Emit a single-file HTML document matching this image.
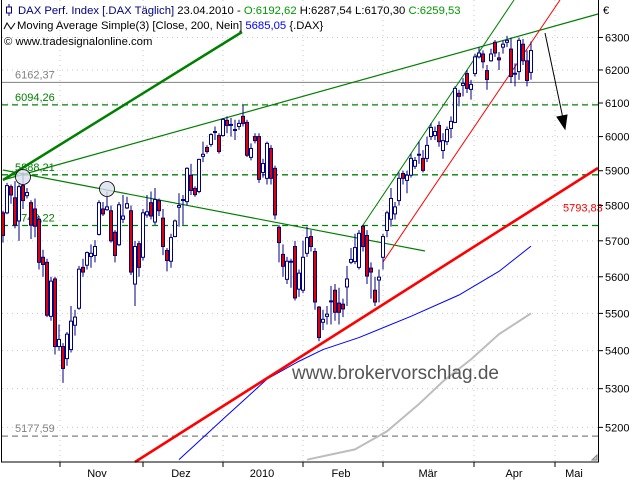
<!DOCTYPE html>
<html><head><meta charset="utf-8"><style>
body{margin:0;background:#fff;width:640px;height:480px;overflow:hidden;font-family:"Liberation Sans",sans-serif;}
svg{position:absolute;left:0;top:0}
text{font-family:"Liberation Sans",sans-serif;font-size:11px}
</style></head><body>
<svg id="chart" width="640" height="480" xmlns="http://www.w3.org/2000/svg">
<rect x="0" y="0" width="640" height="480" fill="#fff"/>
<g id="grid"></g>
<g id="levels"></g>
<g id="ma"></g>
<g id="trend"></g>
<g id="candles"></g>
<g id="overlay"></g>
<rect x="1.5" y="-1" width="597" height="463" fill="none" stroke="#000" stroke-width="1"/>
<g id="axes"></g>
<text x="18" y="14" style="font-size:11.3px"><tspan fill="#000080">DAX Perf. Index [.DAX  Täglich]</tspan><tspan fill="#000"> 23.04.2010 - </tspan><tspan fill="#009900">O:6192,62</tspan><tspan fill="#000"> H:6287,54 L:6170,30 </tspan><tspan fill="#009900">C:6259,53</tspan></text>
<g stroke="#000080" fill="none"><line x1="9" y1="4" x2="9" y2="16"/><rect x="6.5" y="7" width="5" height="6" fill="#fff"/></g>
<path d="M4 29 L7 23 L11 29 L15 23" stroke="#000" fill="none"/>
<text x="17" y="29" style="font-size:11.3px"><tspan fill="#000">Moving Average Simple(3) [Close, 200, Nein] </tspan><tspan fill="#0000ff">5685,05</tspan><tspan fill="#000"> {.DAX}</tspan></text>
<text x="4" y="45" fill="#000" style="font-size:11.3px">© www.tradesignalonline.com</text>
<text x="292" y="379" fill="#555" style="font-size:19px">www.brokervorschlag.de</text>
<text x="603" y="14" fill="#000">€</text>
</svg>
<script>
const opens=[5779,5779,5854,5822,5756,5857,5828,5808,5790,5761,5654,5640,5492,5594,5411,5411,5379,5403,5468,5514,5626,5632,5656,5659,5718,5790,5788,5785,5724,5689,5761,5793,5785,5580,5692,5654,5773,5808,5753,5814,5764,5673,5643,5712,5795,5815,5811,5887,5849,5840,5942,5968,5977,6012,6003,6003,6048,6035,6020,6030,6060,6042,5939,6000,6000,5895,5878,5965,5907,5738,5662,5593,5642,5684,5566,5563,5665,5712,5670,5517,5476,5492,5533,5563,5528,5525,5572,5640,5642,5626,5741,5715,5624,5563,5591,5654,5729,5761,5776,5814,5892,5872,5887,5913,5946,5936,5936,6000,6003,6033,5959,5985,6024,6042,6129,6153,6189,6141,6189,6240,6249,6198,6228,6285,6237,6270,6285,6264,6190,6195,6279,6228,6192.62];
const highs=[5785,5865,5860,5870,5860,5895,5850,5815,5820,5770,5675,5650,5600,5600,5470,5420,5450,5520,5510,5630,5650,5670,5690,5702,5815,5810,5840,5800,5730,5810,5830,5825,5800,5700,5700,5790,5830,5840,5850,5820,5790,5680,5720,5760,5835,5830,5910,5920,5855,5935,5985,5975,6010,6030,6010,6055,6060,6055,6050,6050,6094,6050,5980,6010,6010,5935,5985,5975,5915,5745,5690,5655,5650,5700,5620,5700,5740,5730,5680,5520,5510,5520,5575,5580,5570,5540,5630,5680,5720,5730,5745,5730,5640,5600,5620,5720,5785,5850,5810,5895,5900,5900,5950,5940,5985,5960,6000,6040,6030,6045,6010,6030,6060,6150,6140,6175,6200,6170,6250,6270,6260,6215,6265,6292,6255,6290,6305,6300,6220,6300,6295,6260,6287.54];
const lows=[5695,5775,5805,5735,5700,5790,5820,5705,5710,5620,5600,5490,5480,5390,5400,5315,5360,5395,5440,5510,5600,5620,5625,5640,5715,5770,5785,5695,5640,5685,5750,5790,5605,5520,5600,5645,5765,5760,5745,5770,5660,5615,5625,5710,5740,5745,5800,5830,5825,5835,5925,5950,5970,5990,5950,6000,6010,6000,5990,6020,6030,5940,5930,5980,5865,5880,5860,5860,5760,5640,5600,5580,5570,5535,5545,5555,5655,5670,5510,5425,5455,5470,5470,5480,5470,5490,5520,5635,5635,5620,5670,5580,5540,5520,5530,5620,5710,5740,5760,5800,5860,5835,5880,5905,5920,5895,5925,5990,5990,5970,5935,5975,5995,6040,6090,6120,6130,6110,6180,6235,6205,6140,6225,6240,6200,6250,6270,6160,6150,6170,6215,6150,6170.30];
const closes=[5715,5857,5830,5744,5854,5814,5837,5744,5741,5640,5634,5495,5588,5411,5430,5353,5444,5479,5490,5621,5613,5667,5665,5684,5808,5776,5796,5700,5659,5802,5770,5805,5613,5684,5626,5779,5782,5770,5817,5785,5684,5645,5709,5756,5800,5817,5907,5843,5831,5933,5948,5956,6006,6015,5956,6051,6033,6036,6021,6039,6039,5945,5965,5988,5875,5921,5980,5878,5773,5695,5629,5643,5643,5542,5610,5654,5709,5684,5531,5435,5484,5498,5534,5503,5503,5512,5594,5648,5681,5721,5684,5602,5613,5531,5599,5712,5779,5820,5796,5878,5878,5887,5936,5930,5948,5901,5974,6027,6015,5985,5988,6021,6045,6144,6120,6159,6144,6156,6240,6252,6225,6171,6249,6252,6231,6279,6291,6180,6189,6291,6228,6168,6259.53];
const ma200Idx=[44,55,66,74,80,89,102,114,124,132];
const ma200Val=[5118,5221,5325,5372,5403,5435,5492,5550,5615,5685];
const maGrayIdx=[76,82,88,96,104,110,117,124,132];
const maGrayVal=[5118,5131,5144,5190,5260,5319,5377,5444,5500];
const priceTicks=[6300,6200,6100,6000,5900,5800,5700,5600,5500,5400,5300,5200];
const monthLabels=["Nov","Dez","2010","Feb","Mär","Apr","Mai"];
const monthStartIdx=[14.25,35,55,75,95,117.75,138];
const monthLabelIdx=[23.5,44.5,64.75,84.5,106.25,127.75,142.75];
const levelValues=[6162.37,6094.26,5888.21,5743.22,5177.59];
const levelLabels=["6162,37","6094,26","5888,21","5743,22","5177,59"];
const supportValue=[5793.83];

const NS="http://www.w3.org/2000/svg";
function X(i){return 3+i*4;}
function Y(p){return 17814-2032*Math.log(p);}
function mk(tag,attrs,parent){const e=document.createElementNS(NS,tag);for(const k in attrs)e.setAttribute(k,attrs[k]);document.getElementById(parent).appendChild(e);return e;}

priceTicks.forEach((p,k)=>{
  const g=mk('line',{x1:2,x2:598,y1:Y(p),y2:Y(p),stroke:'#c8c8c8','stroke-dasharray':'1,4'},'grid');
  
  
  const t=mk('line',{x1:598,x2:603,y1:Y(p),y2:Y(p),stroke:'#000'},'axes');
  
  
  const tx=mk('text',{x:605,y:Y(p)+4,fill:'#000'},'axes');
  tx.textContent=String(p);
  
  
});
monthStartIdx.forEach((m,k)=>{
  const xx=X(m);
  const g=mk('line',{x1:xx,x2:xx,y1:0,y2:462,stroke:'#c8c8c8','stroke-dasharray':'1,4'},'grid');
  
  
  const t=mk('line',{x1:xx,x2:xx,y1:462,y2:467,stroke:'#000'},'axes');
  
  
  const tx=mk('text',{x:X(monthLabelIdx[k]),y:477,fill:'#000','text-anchor':'middle'},'axes');
  tx.textContent=monthLabels[k];
  
  
});

levelValues.forEach((v,k)=>{
  const gray=(k===0||k===4);
  const col=gray?'#808080':'#008000';
  const attrs={x1:2,x2:598,y1:Y(v),y2:Y(v),stroke:col,'stroke-width':gray&&k===0?1:1.3};
  if(k!==0)attrs['stroke-dasharray']='6,4';
  const l=mk('line',attrs,'levels');
  
  
  const t=mk('text',{x:15,y:Y(v)-4,fill:gray?'#808080':'#008000'},'levels');
  t.textContent=levelLabels[k];
  
  
});

function poly(idx,val,col,w,name){
  const pts=idx.map((i,k)=>X(i)+','+Y(val[k])).join(' ');
  const p=mk('polyline',{points:pts,fill:'none',stroke:col,'stroke-width':w},'ma');
  
  
}
poly(maGrayIdx,maGrayVal,'#bdbdbd',2,'moving-average-gray');
poly(ma200Idx,ma200Val,'#0000ff',1,'moving-average-200');

const trends=[
 [3,180,242,32,'#008000',2.5,'trendline-thick-green'],
 [3,180,598,14,'#008000',1.2,'trendline-upper-green'],
 [3,170,425,251,'#008000',1.2,'trendline-descending-green'],
 [363,225,514,0,'#008000',1,'trendline-channel-green'],
 [383,262,560,0,'#ff0000',1,'trendline-channel-red'],
 [135,462,598,168,'#ff0000',2.6,'support-line-red'],
];
trends.forEach(t=>{
  const l=mk('line',{x1:t[0],y1:t[1],x2:t[2],y2:t[3],stroke:t[4],'stroke-width':t[5]},'trend');
  
  
});
const sl=mk('text',{x:563,y:Y(supportValue[0])+4,fill:'#ff0000'},'trend');
sl.textContent='5793,83';



closes.forEach((c,i)=>{
  const o=opens[i],x=X(i);
  const w=mk('line',{x1:x,x2:x,y1:Y(highs[i]),y2:Y(lows[i]),stroke:'#000080','stroke-width':1},'candles');
  
  
  const top=Y(Math.max(o,c)),bot=Y(Math.min(o,c));
  const r=mk('rect',{x:x-1.5,y:top,width:3,height:Math.max(1,bot-top),fill:c<o?'#e00000':'#ffffff',stroke:'#000080','stroke-width':1},'candles');
  
  
});

[[23,177],[107,189]].forEach(m=>{
  const c=mk('circle',{cx:m[0],cy:m[1],r:7.5,fill:'#dcdff0',stroke:'#000','stroke-width':0.8,'fill-opacity':0.8},'overlay');
  
  
});
const ar=mk('line',{x1:545,y1:33,x2:565,y2:128,stroke:'#000','stroke-width':1},'overlay');


const ah=mk('path',{d:'M557 117 L565 129 L567 115 Z',fill:'#000',stroke:'#000','stroke-width':1},'overlay');


const rz=mk('path',{d:'M592 460 L597 455 L597 460 Z',fill:'#ccc',stroke:'#888'},'overlay');


</script>
</body></html>
